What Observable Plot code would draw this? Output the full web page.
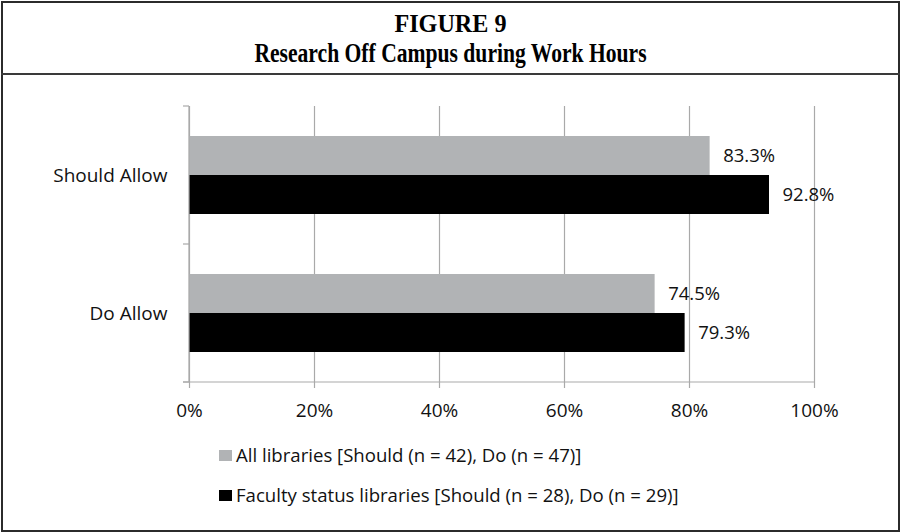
<!DOCTYPE html>
<html>
<head>
<meta charset="utf-8">
<script src="https://cdn.jsdelivr.net/npm/d3@7"></script>
<script src="https://cdn.jsdelivr.net/npm/@observablehq/plot@0.6"></script>
<style>
  html, body { margin: 0; padding: 0; background: #fff; }
  #page { position: relative; width: 901px; height: 532px; overflow: hidden; font-family: "Open Sans", sans-serif; }
  #border { position: absolute; left: 1px; top: 1px; width: 895px; height: 527px; border: 2px solid #2b2b2b; }
  #sep { position: absolute; left: 1px; top: 73px; width: 899px; height: 2px; background: #3a3a3a; }
  .title { position: absolute; left: 0; width: 901px; text-align: center; font-family: "Liberation Serif", "Times New Roman", serif; font-weight: bold; color: #000; line-height: 1; white-space: nowrap; }
  #t1 { top: 11px; font-size: 26px; transform: scaleX(0.93); }
  #t2 { top: 40px; font-size: 27px; transform: scaleX(0.8); }
  #chart { position: absolute; left: 0; top: 76px; }
  .leg { position: absolute; left: 219px; font-size: 18.6px; color: #111; display: flex; align-items: center; line-height: 18px; height: 18px; }
  .sw { width: 13px; height: 11px; margin-right: 4px; display: inline-block; }
</style>
</head>
<body>
<div id="page">
  <div id="border"></div>
  <div id="sep"></div>
  <div class="title" id="t1">FIGURE 9</div>
  <div class="title" id="t2">Research Off Campus during Work Hours</div>
  <div id="chart"></div>
  <div id="legend"></div>
</div>
<script>
const categories = ["Should Allow", "Do Allow"];
const seriesNames = [
  "All libraries [Should (n = 42), Do (n = 47)]",
  "Faculty status libraries [Should (n = 28), Do (n = 29)]"
];
const allLibraries = [83.3, 74.5];
const facultyStatus = [92.8, 79.3];
const xTicks = [0, 20, 40, 60, 80, 100];
const seriesColors = ["#b1b3b5", "#000000"];

(function () {
const data = [];
categories.forEach((c, i) => {
  data.push({cat: c, series: seriesNames[0], value: allLibraries[i]});
  data.push({cat: c, series: seriesNames[1], value: facultyStatus[i]});
});

const gridColor = "#a9a9a9";
const W = 901, H = 354;

const plot = Plot.plot({
  width: W,
  height: H,
  marginLeft: 189,
  marginRight: 87,
  marginTop: 29,
  marginBottom: 48,
  style: {fontFamily: "'Open Sans', sans-serif", fontSize: "19px", color: "#111", background: "transparent"},
  x: {domain: [0, 100], label: null},
  y: {domain: seriesNames, paddingInner: 0, paddingOuter: 0.75, axis: null, label: null},
  fy: {domain: categories, padding: 0, label: null},
  color: {domain: seriesNames, range: seriesColors},
  marks: [
    Plot.gridX(xTicks, {stroke: gridColor, strokeOpacity: 1, strokeWidth: 1.2}),
    Plot.barX(data, {x: "value", y: "series", fy: "cat", fill: "series"}),
    Plot.text(data, {x: "value", y: "series", fy: "cat", text: d => d.value.toFixed(1) + "%", textAnchor: "start", dx: 13, fontSize: 18.5, fill: "#111"}),
    Plot.axisX(xTicks, {tickFormat: d => d + "%", tickSize: 6, stroke: gridColor, strokeWidth: 1.2, tickPadding: 15, fontSize: 19, label: null}),
    Plot.axisFy({anchor: "left", tickSize: 0, tickPadding: 22, fontSize: 19, label: null})
  ]
});

document.getElementById("chart").appendChild(plot);

// Excel-style axis lines and category boundary ticks, placed with Plot's own scales
const fy = plot.scale("fy");
const xs = plot.scale("x");
const svg = d3.select(plot);
const x0 = xs.apply(0), x1 = xs.apply(100);
const yTop = fy.apply(categories[0]);
const yBottom = fy.apply(categories[categories.length - 1]) + fy.bandwidth;
const g = svg.append("g").attr("stroke", gridColor).attr("stroke-width", 1.2);
g.append("line").attr("x1", x0).attr("x2", x0).attr("y1", yTop).attr("y2", yBottom);
g.append("line").attr("x1", x0 - 6).attr("x2", x1).attr("y1", yBottom).attr("y2", yBottom);
const bounds = categories.map(c => fy.apply(c)).concat([yBottom]);
bounds.forEach(b => g.append("line").attr("x1", x0 - 6).attr("x2", x0).attr("y1", b).attr("y2", b));

// Legend below the chart
const legend = document.getElementById("legend");
seriesNames.forEach((s, i) => {
  const row = document.createElement("div");
  row.className = "leg";
  row.style.top = (i === 0 ? 446 : 486) + "px";
  const sw = document.createElement("span");
  sw.className = "sw";
  sw.style.background = seriesColors[i];
  row.appendChild(sw);
  row.appendChild(document.createTextNode(s));
  legend.appendChild(row);
});
})();
</script>
</body>
</html>
